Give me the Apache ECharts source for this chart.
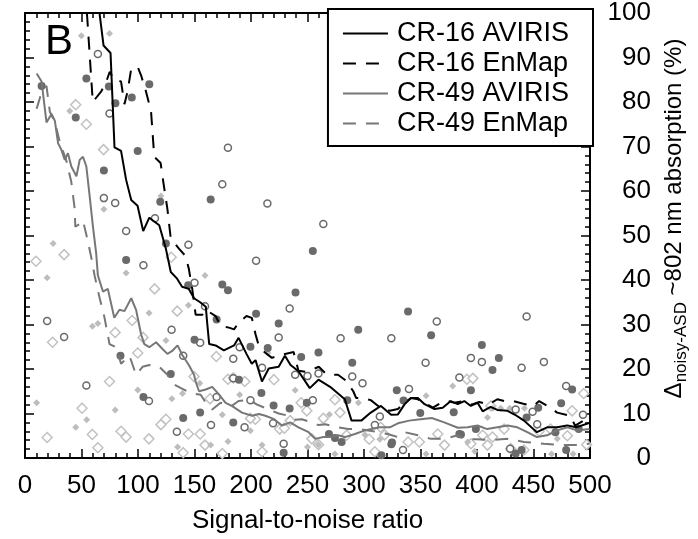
<!DOCTYPE html>
<html>
<head>
<meta charset="utf-8">
<script src="https://cdn.jsdelivr.net/npm/echarts@6/dist/echarts.min.js"></script>
<style>html,body{margin:0;padding:0;background:#fff}#c{width:698px;height:539px}</style>
</head>
<body>
<div id="c"></div>
<script>
// ---- data ----
const xTicks = [0, 50, 100, 150, 200, 250, 300, 350, 400, 450, 500];
const yTicks = [0, 10, 20, 30, 40, 50, 60, 70, 80, 90, 100];
const seriesNames = ['CR-16 AVIRIS', 'CR-16 EnMap', 'CR-49 AVIRIS', 'CR-49 EnMap'];

const cr16AvirisX = [62,69.5,75.7,79.2,85,89.5,94,99.6,104.6,110,118.8,124.7,129,134.6,139,145,149.6,155,160,161,163,168.7,176,185,189,196,200.7,204,209.7,215.7,224.5,230,235,242,252,259.7,270,283,289,297.6,306,315,324,330,336,341.6,347.7,353.6,362.4,369.7,376.8,383,388.8,394.5,400.5,405,412,418,427,435,441.6,453,462,471,479.8,488,499.7];
const cr16AvirisY = [108,92.7,91,69.8,69,62.5,58,56.7,51,54,52.3,47,41.8,40.3,38.5,38,35.9,35,34,31,25.6,25.3,24.2,25.3,27,23.4,21.2,22,17.2,20.1,20.5,23,20.9,19.5,15.7,17.6,16,13.2,8.4,8.4,10.2,11.7,9.7,9.8,12.1,13.5,13.5,12.1,11,11.3,12.8,12.1,12.8,11.7,12.4,10.5,11.5,10.8,10.6,9.5,8.4,5.8,6.9,6.9,7.3,6.9,7.9];

const cr16EnmapX = [53.5,60,67.5,72,75,79,85,88,90.8,94,99.7,102.7,107,111.5,114.4,120,123,126,129,136.4,142,145,148,151,157,160,168.7,173,180.5,185,189,196,200.7,204,206.8,211,218.5,227,237.7,242,248,253.5,260,266.7,277,284,290.5,293,300,306,312.5,315,322.8,330,336,341.6,347.7,353.6,361,368,374,380,388,395,402,410,418,424,432,441,450,455,465,471,482.4,486.8,494.4,499.7];
const cr16EnmapY = [105,80,82.4,84.6,86.8,85,84.6,79.5,82.4,87.5,87.9,86,82.4,78,67.7,66.3,61,56,49.3,47,45.4,42.5,38,32.2,32.2,33.3,31.9,29.7,29.3,28.9,30.4,31.9,31.5,27.8,25.3,24,22.5,23.2,23.8,19.6,19.4,19.8,20.5,18.8,18.7,17.4,15,13.5,13.4,13,11.7,11.3,10.6,11,12.4,13.5,13.2,12.4,11.3,12.4,12.8,12.4,12.8,12,12.6,12,13.2,12.8,12.8,12.2,11.7,12.8,11.3,10.2,9.5,7.3,8.4,8.8];

const cr49AvirisX = [10.3,14.7,19,23.5,26.4,29.3,32.3,35.2,38,41,45.5,48.4,51.3,54.3,57.2,60,63,64.5,69,73.3,79,83.6,88,94,98.3,102.7,105.6,110,116,121.7,126,130,135,139.3,145,149.6,151,154,160,165.7,171.6,177.5,183,192,201,207,212.7,220,227.4,234.7,242,251,256.8,264,271.4,277,283,292,300.8,306.6,314,322.8,330,340,350,360,371,383,391.7,400.5,409,418,427,435.7,444.5,453,462,471,480,488.5,499.7];
const cr49AvirisY = [86.4,84.6,75.4,77.3,75.8,70.7,69.2,67,68.5,65.5,63.3,67,67.7,65.5,58.9,52.3,46,41,37.4,38,31.5,33.3,33,35.9,33.3,27.8,25.6,24.9,26,24.5,23.4,24,25.3,23.1,20.9,18.7,17.2,15,15.4,16,14.3,12.4,11.7,10.2,9.5,9.9,9.5,8.8,7.3,8,6.9,5.8,4.3,4.7,4.7,5.1,4.7,5.4,6.2,6.5,6.9,6.9,7.8,8.4,8.7,9,8,6.8,6.9,7.3,6.5,6.9,7.3,6.9,5.8,4.7,5.1,6.2,6.9,6.2,6.5];

const cr49EnmapX = [10.3,14.7,19,22,26.4,30.8,36.7,41,44,44.5,48,51.3,55.7,58.7,61.6,66,70.4,74.8,80.7,85,92.4,98.3,104,110,118.8,126,132,138,146.7,155.5,160,165.7,173,183,189,198,205.4,215.7,224.5,233,239,245,253.8,259.7,265.6,277,286,295,303.7,312.5,321,330,336,347.7,359.4,371,383,388.8,400,412,427,441.6,459,474,488.5,499.7];
const cr49EnmapY = [78.5,82.2,83.6,77.8,75.5,71,66.7,62,56,52,52.5,53.4,48.6,45,41,36,31.5,25.6,24.9,21.2,23,18.7,20.5,20.9,20.5,18.7,16.5,15.7,14.6,14.2,12.4,10.9,12.4,11.7,12.8,13.1,12,10.9,10,9.5,8.6,8.7,8,7.4,7.6,6.9,6.5,6.5,6.2,5.8,5.4,4.7,5.8,5.1,4.3,4.3,5.1,4.3,4.2,4,4.3,3.6,3.2,2.9,2.9,3.2];

const filledCircles = [[14.7,83.6],[54.3,85.3],[74.2,83.5],[110,84],[94.5,81],[80,79.7],[44.9,76.5],[99.7,69],[69.8,64.6],[119.7,57.6],[124.7,48.2],[164.3,58.1],[89.5,44.5],[144.4,38.8],[174.6,39],[179.6,37.7],[169.6,31.1],[150,26.6],[84.5,23],[129,18.9],[104.8,13.7],[140,9],[155,10.2],[184.3,8],[254.7,46.5],[239.4,37.2],[204.5,32.4],[224.5,30.2],[294.9,28.8],[199.5,25],[214.8,24.7],[244.4,22.7],[259.7,23.7],[289.6,21.4],[189.3,17.6],[209.2,14.6],[329,15.2],[249.4,12.4],[285.2,13],[220,11.8],[234.2,11.1],[269,5.4],[274.3,4.5],[280.2,3.6],[324.2,3.1],[228.9,1.2],[315.4,0.6],[339,32.9],[359.4,27.6],[335,12.9],[349.8,10.1],[379.4,10.3],[324.8,3.5],[385.8,5.3],[404.3,25.4],[419.3,22.5],[413.7,19.8],[394.6,15.2],[484.2,15.4],[454.2,11.3],[443.9,9.1],[474.5,12.3],[399,6.5],[384.4,5.4],[434.2,1],[439.5,1.8],[469.4,5.8],[478.9,1.8],[490,6.5]];
const openCircles = [[64.5,90.8],[74.8,77.4],[69.8,58.4],[79.8,57.3],[115,53.9],[89.5,51],[144.6,47.9],[179.6,69.7],[174.6,61.5],[104.8,43.3],[150,39.4],[159.3,34.1],[19.6,30.8],[34.6,27.2],[129.7,28.8],[155,25.9],[140,23],[54.3,16.3],[109.7,12.8],[169.6,13.7],[134.4,5.9],[164.6,7.4],[184.3,22.3],[184.3,17.9],[214.5,57.2],[264,52.6],[204.5,44.3],[234.2,33.6],[279.3,26.9],[324.2,26.9],[224.5,27.1],[190,24.9],[209.8,20.3],[239.1,18.7],[250,18.4],[259.7,19],[289.6,18.3],[298.7,16.8],[254.7,13],[199.5,13],[194.3,6.9],[219.5,7.8],[309.6,7.4],[314,9.3],[228.9,3.2],[364.4,30.7],[354.5,21.4],[394.6,22.5],[384.4,18.1],[339.8,15.5],[334.5,1.8],[443.9,31.8],[404.3,21.6],[439.5,20.3],[459.2,21.6],[478.9,16.2],[434.2,10.9],[449.2,10.4],[453.3,7.6],[493.8,9.7],[429.3,2.1]];
const smallDiamonds = [[49.9,94.9],[74.8,95.4],[39.6,78],[69.8,55.9],[120.3,58.9],[24.9,48.2],[19.6,40.5],[89.5,41.6],[159.3,41],[109.8,32.6],[144.6,34.3],[59.6,29.6],[64.5,30.2],[124.7,26.4],[99.8,15.3],[130,13.3],[139.4,14.5],[154.7,16.8],[10.3,12.4],[79.8,10.8],[54.6,8.6],[44.9,6.9],[135,2.5],[164.3,2.9],[179.6,3.7],[174.6,9.7],[214.8,23.6],[239.1,15.2],[190,14.2],[295,12.4],[199.5,6.1],[269.4,9.8],[259.7,3],[300.8,5.2],[314,4.2],[209.8,2.9],[250,2.5],[274.3,0.9],[355,14],[378.5,16.2],[355,0.9],[391.7,3.6],[409.3,9.1],[414,11.2],[421,11.2],[429,11.2],[442,11.2],[471,4.3],[466,0.9],[485,0.9],[398,1.5]];
const openDiamonds = [[44.9,79.4],[54.3,75],[69.5,69.3],[34.6,45.7],[9.7,44.2],[129.4,45.1],[114.7,38],[134.7,33],[94.8,30.9],[79.8,28.2],[24.4,26],[104.5,27.1],[169.3,22.8],[99.8,23.6],[149.6,18.3],[74.8,17.2],[163.7,13.3],[50.5,11.2],[19.6,4.6],[59.6,5.3],[85,6],[89.5,4.7],[64.5,2.3],[109.7,4.3],[120.3,7.5],[124.7,8.7],[144.6,5.4],[155,5.4],[140,1.2],[159.3,2.9],[174.6,1],[179.6,17.7],[184.3,18],[194.5,17.2],[220.3,17.6],[244.4,12.4],[274.3,13.1],[249.4,10.6],[234.7,8.4],[203.9,8.7],[199.5,8.9],[225.4,6.5],[229.5,6.7],[264,8.9],[278.8,10.2],[253.8,4.3],[259.7,3],[284.6,5.1],[304.6,4.2],[318.3,5.2],[314.8,6.9],[209.8,1.4],[309.6,1.4],[391.1,17.7],[396.4,17.9],[365.3,5.4],[339,3.6],[349,3.6],[371.2,2.9],[412.3,11.7],[484.2,10.6],[494.4,14.5],[405,5.1],[413.7,4.7],[424,6.5],[394.6,3.2],[409.3,2.9],[429.8,2.1],[441.6,1.8],[455,6],[465,6.5],[480,5],[497,3]];

// ---- chart ----
const FONT = "'Liberation Sans', Arial, Helvetica, sans-serif";
const zip = (xs, ys) => xs.map((x, i) => [x, ys[i]]);
const chart = echarts.init(document.getElementById('c'), null, { renderer: 'canvas' });

const axisCommon = {
  type: 'value',
  axisLine: { show: true, onZero: false, lineStyle: { color: '#000', width: 2 } },
  axisTick: { show: true, inside: true, length: 9, lineStyle: { color: '#000', width: 1.5 } },
  minorTick: { show: true, splitNumber: 5, length: 5, lineStyle: { color: '#000', width: 1.5 } },
  splitLine: { show: false },
  minorSplitLine: { show: false }
};

const lineColors = ['#000', '#000', '#777', '#777'];
const lineTypes = ['solid', [13, 10], 'solid', [13, 10]];
const lineData = [zip(cr16AvirisX, cr16AvirisY), zip(cr16EnmapX, cr16EnmapY), zip(cr49AvirisX, cr49AvirisY), zip(cr49EnmapX, cr49EnmapY)];

const scatterDefs = [
  { data: openDiamonds, symbol: 'diamond', size: 10, color: '#fff', border: '#c2c2c2', bw: 1.5 },
  { data: smallDiamonds, symbol: 'diamond', size: 7, color: '#bdbdbd', border: '#bdbdbd', bw: 0 },
  { data: openCircles, symbol: 'circle', size: 7, color: '#fff', border: '#6a6a6a', bw: 1.5 },
  { data: filledCircles, symbol: 'circle', size: 8, color: '#6a6a6a', border: '#6a6a6a', bw: 0 }
];

const series = [];
scatterDefs.forEach((d, i) => {
  series.push({
    type: 'scatter', name: 'pts' + i, data: d.data, symbol: d.symbol, symbolSize: d.size,
    itemStyle: { color: d.color, borderColor: d.border, borderWidth: d.bw, opacity: 1 },
    z: 2, silent: true, animation: false
  });
});
seriesNames.forEach((n, i) => {
  series.push({
    type: 'line', name: n, data: lineData[i], symbol: 'none', clip: true,
    lineStyle: { color: lineColors[i], width: 2, type: lineTypes[i] },
    itemStyle: { color: lineColors[i] },
    z: 3, animation: false
  });
});

chart.setOption({
  animation: false,
  backgroundColor: '#fff',
  textStyle: { fontFamily: FONT },
  title: { text: 'B', left: 40, top: 16, textStyle: { fontSize: 42, fontWeight: 'normal', color: '#000', fontFamily: FONT } },
  grid: { left: 25, right: 105, top: 9, bottom: 76 },
  legend: {
    data: seriesNames,
    orient: 'vertical', right: 105, top: 9,
    backgroundColor: '#fff', borderColor: '#000', borderWidth: 2,
    padding: [11, 24, 9, 14], itemGap: 3, itemWidth: 45, itemHeight: 27,
    itemStyle: { color: 'rgba(0,0,0,0)', borderWidth: 0, opacity: 0 },
    textStyle: { fontSize: 27, color: '#000', fontFamily: FONT, padding: [0, 0, 0, 4] },
    z: 10
  },
  xAxis: [
    Object.assign({}, axisCommon, {
      position: 'bottom', min: 0, max: 500, interval: 50,
      axisLabel: { show: true, fontSize: 26, color: '#000', margin: 15, fontFamily: FONT,
        formatter: v => (xTicks.indexOf(v) >= 0 ? String(v) : '') },
      name: 'Signal-to-noise ratio', nameLocation: 'middle', nameGap: 50,
      nameTextStyle: { fontSize: 26, color: '#000', fontFamily: FONT }
    }),
    Object.assign({}, axisCommon, { position: 'top', min: 0, max: 500, interval: 50, axisLabel: { show: false } })
  ],
  yAxis: [
    Object.assign({}, axisCommon, {
      position: 'right', min: 0, max: 100, interval: 10,
      axisLabel: { show: true, fontSize: 26, color: '#000', margin: 61, align: 'right', fontFamily: FONT,
        formatter: v => (yTicks.indexOf(v) >= 0 ? String(v) : '') },
      name: '{d|Δ}{s|noisy-ASD}{d| ~802 nm absorption (%)}',
      nameLocation: 'middle', nameRotate: 90, nameGap: 68,
      nameTextStyle: { color: '#000', fontFamily: FONT, padding: [0, 0, 0, 34],
        rich: { d: { fontSize: 24, lineHeight: 32, fontFamily: FONT, color: '#000' },
                s: { fontSize: 17, lineHeight: 17, verticalAlign: 'bottom', fontFamily: FONT, color: '#000' } } }
    }),
    Object.assign({}, axisCommon, { position: 'left', min: 0, max: 100, interval: 10, axisLabel: { show: false } })
  ],
  series: series
});
</script>
</body>
</html>
